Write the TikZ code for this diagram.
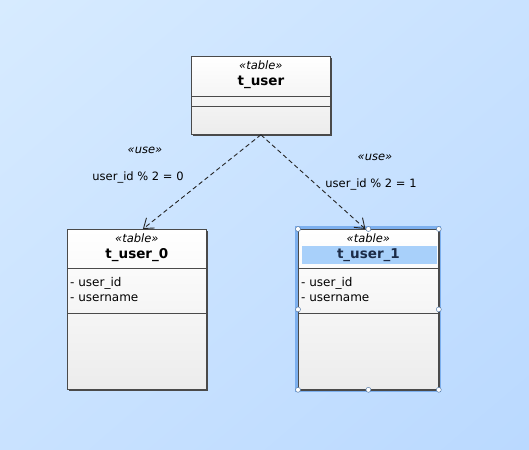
\documentclass[tikz,border=0pt]{standalone}
\usepackage{fontspec}
\setmainfont{DejaVu Sans}
\usetikzlibrary{arrows.meta,calc,shadows,shadings}

\definecolor{bgtop}{HTML}{D7EBFF}
\definecolor{bgmid}{HTML}{C9E2FF}
\definecolor{bgbot}{HTML}{BAD9FF}
\definecolor{boxline}{HTML}{4A4A4A}
\definecolor{selblue}{HTML}{7CAFEE}
\definecolor{selfill}{HTML}{A8D0FA}
\definecolor{selname}{HTML}{1C2C48}

\tikzset{
  tbl_box/.style = {draw=boxline, line width=0.8pt, anchor=north west,
    top color=white, bottom color=gray!15, inner sep=0pt,
    drop shadow={shadow xshift=1.4pt, shadow yshift=-1.4pt,
      fill=boxline, opacity=1}},% boite de table
  tbl_st/.style = {font=\fontsize{11.5}{13}\selectfont\itshape, inner sep=0pt},% stereotype
  tbl_nm/.style = {font=\fontsize{13.5}{15}\selectfont\bfseries, inner sep=0pt},% nom de table
  tbl_at/.style = {font=\fontsize{12}{14}\selectfont, anchor=west, inner sep=0pt},% attribut
  dep/.style = {draw=black!85, line width=0.9pt, dash pattern=on 4.5pt off 3pt,
    -{Straight Barb[length=9pt,width=13pt]}},% dependance
  dep_lbl/.style = {font=\fontsize{11.5}{13}\selectfont, inner sep=0pt},
  handle/.style = {circle, draw=selblue!70!black, fill=white,
    minimum size=5pt, inner sep=0pt, line width=0.5pt}% poignee de selection
}

\begin{document}
\begin{tikzpicture}[x=1pt,y=-1pt]
\useasboundingbox (0,0) rectangle (529,449);
\shade[upper left=bgtop, upper right=bgmid, lower left=bgmid, lower right=bgbot]
  (0,0) rectangle (529,449);

% t_user
\node [tbl_box, minimum width=139pt, minimum height=78pt] (user) at (191,56) {};
\draw [boxline, line width=0.8pt] ($(user.north west)+(0,40)$) -- ($(user.north east)+(0,40)$);
\draw [boxline, line width=0.8pt] ($(user.north west)+(0,50)$) -- ($(user.north east)+(0,50)$);
\node [tbl_st] (user_st) at ($(user.north)+(0,9)$) {«table»};
\node [tbl_nm] (user_nm) at ($(user.north)+(0,26)$) {t\_user};

% t_user_0
\node [tbl_box, minimum width=139pt, minimum height=160pt] (u0) at (67,229) {};
\draw [boxline, line width=0.8pt] ($(u0.north west)+(0,39)$) -- ($(u0.north east)+(0,39)$);
\draw [boxline, line width=0.8pt] ($(u0.north west)+(0,84)$) -- ($(u0.north east)+(0,84)$);
\node [tbl_st] (u0_st) at ($(u0.north)+(0,9)$) {«table»};
\node [tbl_nm] (u0_nm) at ($(u0.north)+(0,26)$) {t\_user\_0};
\node [tbl_at] (u0_a1) at ($(u0.north west)+(3,54)$) {- user\_id};
\node [tbl_at] (u0_a2) at ($(u0.north west)+(3,69)$) {- username};

% t_user_1 (selectionnee)
\draw [selblue, line width=3.5pt] (297,228) rectangle (439,390);
\node [tbl_box, minimum width=140pt, minimum height=160pt] (u1) at (298,229) {};
\fill [selfill] ($(u1.north west)+(4,17)$) rectangle ($(u1.north east)+(-2,35)$);
\draw [boxline, line width=0.8pt] ($(u1.north west)+(0,39)$) -- ($(u1.north east)+(0,39)$);
\draw [boxline, line width=0.8pt] ($(u1.north west)+(0,84)$) -- ($(u1.north east)+(0,84)$);
\node [tbl_st] (u1_st) at ($(u1.north)+(0,9)$) {«table»};
\node [tbl_nm, text=selname] (u1_nm) at ($(u1.north)+(0,26)$) {t\_user\_1};
\node [tbl_at] (u1_a1) at ($(u1.north west)+(3,54)$) {- user\_id};
\node [tbl_at] (u1_a2) at ($(u1.north west)+(3,69)$) {- username};
\foreach \a/\n in {north west/nw, north/n, north east/ne, west/w,
  east/e, south west/sw, south/s, south east/se}
  \node [handle] (h_\n) at (u1.\a) {};

% dependances
\draw [dep] (user.south) -- ([xshift=6pt]u0.north);
\draw [dep] (user.south) -- ([xshift=-3pt]u1.north);
\node [dep_lbl] (use0_st) at (145,150) {\itshape «use»};
\node [dep_lbl] (use0_cd) at (138,177) {user\_id \% 2 = 0};
\node [dep_lbl] (use1_st) at (375,157) {\itshape «use»};
\node [dep_lbl] (use1_cd) at (371,184) {user\_id \% 2 = 1};
\end{tikzpicture}
\end{document}
